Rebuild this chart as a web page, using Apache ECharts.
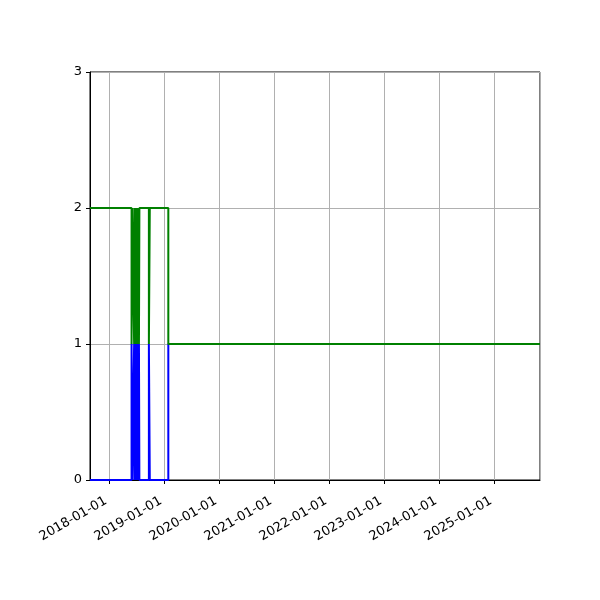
<!DOCTYPE html>
<html>
    <head>
        <meta charset="utf-8">
        <title>steps</title>
        <style>html,body{margin:0;padding:0;background:#fff}#chart{width:600px;height:600px}</style>
    </head>
    <body>
        <div id="chart"></div>
        <script type="text/javascript" src="https://cdn.jsdelivr.net/npm/echarts@6/dist/echarts.min.js"></script>
        <script>
            // x range of the plot
            const xMin = '2017-08-25';
            const xMax = '2025-10-30';
            const yTicks = [0, 1, 2, 3];

            // blue series: change points (value holds until the next date)
            const blueDates = ['2017-08-25', '2018-05-28', '2018-06-01',
                '2018-06-14', '2018-06-16', '2018-06-18', '2018-06-20', '2018-06-22', '2018-06-24', '2018-06-26',
                '2018-06-28', '2018-06-30', '2018-07-02', '2018-07-04', '2018-07-06', '2018-07-08', '2018-07-10',
                '2018-07-12', '2018-07-14', '2018-07-16', '2018-07-19',
                '2018-09-20', '2018-09-26', '2019-01-27', '2025-10-30'];
            const blueValues = [0, 1, 0,
                1, 0, 1, 0, 1, 0, 1,
                0, 1, 0, 1, 0, 1, 0,
                1, 0, 1, 0,
                1, 0, 1, 1];

            // green series
            const greenDates = ['2017-08-25', '2018-05-28', '2018-06-01',
                '2018-06-14', '2018-06-16', '2018-06-18', '2018-06-20', '2018-06-22', '2018-06-24', '2018-06-26',
                '2018-06-28', '2018-06-30', '2018-07-02', '2018-07-04', '2018-07-06', '2018-07-08', '2018-07-10',
                '2018-07-12', '2018-07-14', '2018-07-16', '2018-07-19',
                '2018-09-20', '2018-09-26', '2019-01-27', '2025-10-30'];
            const greenValues = [2, 1, 2,
                1, 2, 1, 2, 1, 2, 1,
                2, 1, 2, 1, 2, 1, 2,
                1, 2, 1, 2,
                1, 2, 1, 1];

            const pair = (d, v) => d.map((x, i) => [x, v[i]]);
            const YEAR = 365 * 24 * 3600 * 1000;
            const font = 'DejaVu Sans';

            const chart = echarts.init(document.getElementById('chart'));
            chart.setOption({
                animation: false,
                grid: { left: 90, right: 60, top: 72, bottom: 120, show: true, borderColor: '#000', borderWidth: 1, backgroundColor: 'transparent' },
                xAxis: {
                    type: 'time',
                    min: xMin,
                    max: xMax,
                    minInterval: YEAR,
                    maxInterval: YEAR,
                    axisLine: { lineStyle: { color: '#000', width: 1 } },
                    axisTick: { show: true, length: 4, lineStyle: { color: '#000' } },
                    axisLabel: {
                        rotate: 30,
                        color: '#000',
                        fontFamily: font,
                        fontSize: 13,
                        margin: 18,
                        padding: [0, 4, 0, 0],
                        showMinLabel: false,
                        showMaxLabel: false,
                        formatter: v => echarts.time.format(v, '{yyyy}-{MM}-{dd}', false)
                    },
                    splitLine: { show: true, lineStyle: { color: '#b0b0b0', width: 1 } }
                },
                yAxis: {
                    type: 'value',
                    min: yTicks[0],
                    max: yTicks[yTicks.length - 1],
                    interval: 1,
                    axisLine: { show: true, lineStyle: { color: '#000', width: 1 } },
                    axisTick: { show: true, length: 4, lineStyle: { color: '#000' } },
                    axisLabel: { color: '#000', fontFamily: font, fontSize: 13, margin: 8 },
                    splitLine: { show: true, lineStyle: { color: '#b0b0b0', width: 1 } }
                },
                series: [
                    {
                        type: 'line', step: 'end', showSymbol: false,
                        data: pair(blueDates, blueValues),
                        lineStyle: { color: '#0000ff', width: 2 },
                        itemStyle: { color: '#0000ff' }
                    },
                    {
                        type: 'line', step: 'end', showSymbol: false,
                        data: pair(greenDates, greenValues),
                        lineStyle: { color: '#008000', width: 2 },
                        itemStyle: { color: '#008000' }
                    }
                ]
            });
        </script>
    </body>
</html>
